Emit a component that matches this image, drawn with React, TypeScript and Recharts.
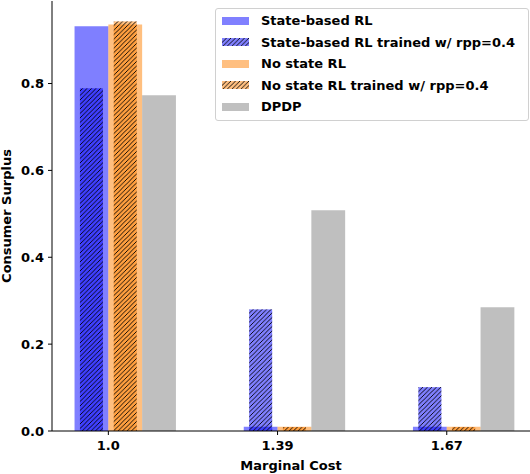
import { BarChart, Bar, XAxis, YAxis } from "recharts"

// ── Data ───────────────────────────────────────────────────────────────────

const MARGINAL_COST = ["1.0", "1.39", "1.67"]
const STATE_RL = [0.932, 0.01, 0.01]
const STATE_RL_RPP = [0.789, 0.28, 0.101]
const NO_STATE_RL = [0.936, 0.01, 0.01]
const NO_STATE_RL_RPP = [0.943, 0.009, 0.009]
const DPDP = [0.773, 0.508, 0.285]
const Y_TICKS = [0, 0.2, 0.4, 0.6, 0.8]

const data = MARGINAL_COST.map((label, i) => ({
  x: i + 1,
  label,
  stateRl: STATE_RL[i],
  stateRlRpp: STATE_RL_RPP[i],
  noStateRl: NO_STATE_RL[i],
  noStateRlRpp: NO_STATE_RL_RPP[i],
  dpdp: DPDP[i],
}))

// ── Style ──────────────────────────────────────────────────────────────────

const FONT = "DejaVu Sans"
const BLUE = "#0000ff"
const ORANGE = "#ff8000"
const GRAY = "#808080"
const SLOT = 33.8
const HATCH_INSET = 5.4
// plot runs 52 → 540 px (the last 10 px are cropped by the frame)
const X_DOMAIN: [number, number] = [0.667, 3.551]
const H = 4.5 // hatch spacing

const tickStyle = { fill: "#000", fontSize: 13, fontWeight: "bold", fontFamily: FONT }

function HatchDefs({ id }: { id: string }) {
  return (
    <defs>
      <pattern id={id} patternUnits="userSpaceOnUse" width={H} height={H}>
        <path
          d={`M-1,1 L1,-1 M0,${H} L${H},0 M${H - 1},${H + 1} L${H + 1},${H - 1}`}
          stroke="#000"
          strokeWidth={0.9}
        />
      </pattern>
    </defs>
  )
}

function hatchedShape(color: string) {
  return (p: any) => {
    if (!p.height || p.height <= 0) return <g />
    const x = p.x + HATCH_INSET
    const w = p.width - 2 * HATCH_INSET
    return (
      <g>
        <rect x={x} y={p.y} width={w} height={p.height} fill={color} fillOpacity={0.5} />
        <rect x={x} y={p.y} width={w} height={p.height} fill="url(#hatch)" />
      </g>
    )
  }
}

// ── Legend (drawn over the chart, matplotlib style) ────────────────────────

const LEGEND = [
  { name: "State-based RL", color: "#8080ff", hatch: false },
  { name: "State-based RL trained w/ rpp=0.4", color: "#8080ff", hatch: true },
  { name: "No state RL", color: "#ffbf80", hatch: false },
  { name: "No state RL trained w/ rpp=0.4", color: "#ffbf80", hatch: true },
  { name: "DPDP", color: "#c0c0c0", hatch: false },
]

function LegendBox() {
  return (
    <div
      style={{
        position: "absolute",
        left: 215,
        top: 8,
        width: 312,
        padding: "1px 0 2.5px 0",
        border: "1px solid #d0d0d0",
        borderRadius: 3,
        background: "#fff",
        fontFamily: FONT,
        fontSize: 13,
        fontWeight: "bold",
        color: "#000",
      }}
    >
      {LEGEND.map((item) => (
        <div
          key={item.name}
          style={{ height: 21.5, display: "flex", alignItems: "center", whiteSpace: "nowrap" }}
        >
          <svg width={27} height={8} style={{ marginLeft: 6, marginRight: 12, flexShrink: 0 }}>
            <HatchDefs id={`lg-${item.name.length}`} />
            <rect width={27} height={8} fill={item.color} />
            {item.hatch && (
              <rect width={27} height={8} fill={`url(#lg-${item.name.length})`} />
            )}
          </svg>
          <span>{item.name}</span>
        </div>
      ))}
    </div>
  )
}

// ── Main export ────────────────────────────────────────────────────────────

export default function App() {
  return (
    <div
      style={{
        position: "absolute",
        left: 0,
        top: 0,
        width: 530,
        height: 474,
        overflow: "hidden",
        background: "#fff",
      }}
    >
      <svg width={0} height={0} style={{ position: "absolute" }}>
        <HatchDefs id="hatch" />
      </svg>
      <BarChart
        width={540}
        height={474}
        data={data}
        margin={{ top: 1, right: 0, bottom: 0, left: 0 }}
        barGap={0}
        barCategoryGap={0}
      >
        <XAxis
          xAxisId="main"
          type="number"
          dataKey="x"
          domain={X_DOMAIN}
          allowDataOverflow
          ticks={[1, 2, 3]}
          tickFormatter={(v: number) => MARGINAL_COST[v - 1] ?? ""}
          tick={tickStyle}
          tickSize={4}
          tickMargin={6}
          height={43}
          axisLine={{ stroke: "#000" }}
          tickLine={{ stroke: "#000" }}
          label={{
            content: () => (
              <text
                x={291}
                y={470}
                textAnchor="middle"
                fontFamily={FONT}
                fontSize={13}
                fontWeight="bold"
                fill="#000"
              >
                Marginal Cost
              </text>
            ),
          }}
        />
        <XAxis
          xAxisId="hatch"
          orientation="top"
          type="number"
          dataKey="x"
          domain={X_DOMAIN}
          allowDataOverflow
          height={0}
          hide
        />
        <YAxis
          domain={[0, 0.99]}
          allowDataOverflow
          ticks={Y_TICKS}
          tickFormatter={(v: number) => v.toFixed(1)}
          tick={tickStyle}
          tickSize={4}
          tickMargin={4}
          width={52}
          axisLine={{ stroke: "#000" }}
          tickLine={{ stroke: "#000" }}
          label={{
            content: () => (
              <text
                x={6}
                y={216}
                transform="rotate(-90 6 216)"
                textAnchor="middle"
                dominantBaseline="central"
                fontFamily={FONT}
                fontSize={13}
                fontWeight="bold"
                fill="#000"
              >
                Consumer Surplus
              </text>
            ),
          }}
        />

        {/* wide bars: empty slot, state-based, no state, DPDP */}
        <Bar xAxisId="main" dataKey="none" barSize={SLOT} legendType="none" isAnimationActive={false} />
        <Bar xAxisId="main" dataKey="stateRl" name="State-based RL" barSize={SLOT} fill={BLUE} fillOpacity={0.5} isAnimationActive={false} />
        <Bar xAxisId="main" dataKey="noStateRl" name="No state RL" barSize={SLOT} fill={ORANGE} fillOpacity={0.5} isAnimationActive={false} />
        <Bar xAxisId="main" dataKey="dpdp" name="DPDP" barSize={SLOT} fill={GRAY} fillOpacity={0.5} isAnimationActive={false} />

        {/* hatched bars laid over the same slots */}
        <Bar xAxisId="hatch" dataKey="none" barSize={SLOT} legendType="none" isAnimationActive={false} />
        <Bar
          xAxisId="hatch"
          dataKey="stateRlRpp"
          name="State-based RL trained w/ rpp=0.4"
          barSize={SLOT}
          shape={hatchedShape(BLUE)}
          isAnimationActive={false}
        />
        <Bar
          xAxisId="hatch"
          dataKey="noStateRlRpp"
          name="No state RL trained w/ rpp=0.4"
          barSize={SLOT}
          shape={hatchedShape(ORANGE)}
          isAnimationActive={false}
        />
        <Bar xAxisId="hatch" dataKey="none" barSize={SLOT} legendType="none" isAnimationActive={false} />
      </BarChart>
      <LegendBox />
    </div>
  )
}
